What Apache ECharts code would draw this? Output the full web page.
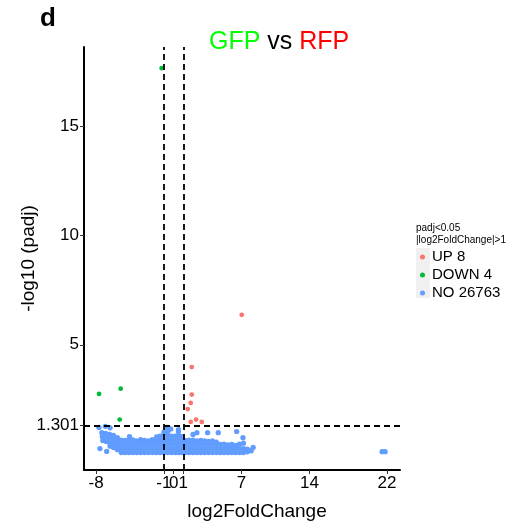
<!DOCTYPE html>
<html><head><meta charset="utf-8">
<script src="https://cdn.jsdelivr.net/npm/echarts@6/dist/echarts.min.js"></script>
<style>html,body{margin:0;padding:0;background:#fff}#c{width:521px;height:527px}</style>
</head><body><div id="c"></div>
<script>
const xTicks = [-8, -1, 0, 1, 7, 14, 22];
const yTicks = [1.301, 5, 10, 15];
const legendNames = ['UP 8', 'DOWN 4', 'NO 26763'];
const thresholdX = [-1, 1];
const thresholdY = 1.301;

const upPoints = [
  [7.02, 6.37], [1.87, 3.98], [1.87, 2.72], [1.76, 2.34],
  [1.45, 2.06], [1.76, 1.47], [2.31, 1.58], [2.90, 1.47]
];
const downPoints = [
  [-1.23, 17.66], [-7.69, 2.75], [-5.46, 2.99], [-5.56, 1.58]
];
const noPoints = [
  [-7.7,1.22],[-7.05,1.27],[-6.55,1.2],[-7.6,0.25],[-6.9,0.12],
  [-7.4,0.98],[-7.35,0.8],[-7.3,0.62],
  [-7.0,0.95],[-7.0,0.76],[-6.95,0.58],
  [-6.6,0.9],[-6.6,0.72],[-6.6,0.52],[-6.55,0.36],
  [-6.2,0.85],[-6.2,0.66],[-6.2,0.47],[-6.2,0.3],
  [-5.8,0.75],[-5.8,0.56],[-5.8,0.38],[-5.8,0.2],
  [-5.4,0.07],[-5.4,0.26],[-5.4,0.45],[-5.4,0.64],
  [-5.0,0.07],[-5.0,0.26],[-5.0,0.45],[-5.0,0.62],
  [-4.6,0.07],[-4.6,0.26],[-4.6,0.45],[-4.6,0.64],[-4.55,0.8],
  [-4.2,0.07],[-4.2,0.26],[-4.2,0.45],[-4.2,0.65],
  [-3.8,0.07],[-3.8,0.26],[-3.8,0.45],[-3.8,0.6],
  [-3.4,0.07],[-3.4,0.26],[-3.4,0.45],[-3.4,0.66],
  [-3.0,0.07],[-3.0,0.26],[-3.0,0.45],[-3.0,0.62],
  [-2.6,0.07],[-2.6,0.26],[-2.6,0.45],[-2.6,0.6],
  [-2.2,0.07],[-2.2,0.26],[-2.2,0.45],[-2.2,0.66],
  [-1.8,0.07],[-1.8,0.26],[-1.8,0.45],[-1.8,0.64],[-1.75,0.78],
  [-1.4,0.07],[-1.4,0.26],[-1.4,0.45],[-1.4,0.64],[-1.4,0.82],
  [-1.0,0.07],[-1.0,0.26],[-1.0,0.45],[-1.0,0.64],[-1.0,0.85],[-1.0,1.0],
  [-0.6,0.07],[-0.6,0.26],[-0.6,0.45],[-0.6,0.64],[-0.6,0.84],[-0.6,1.02],[-0.7,1.22],
  [-0.2,0.07],[-0.2,0.26],[-0.2,0.45],[-0.2,0.64],[-0.2,0.82],[-0.3,1.15],
  [0.2,0.07],[0.2,0.26],[0.2,0.45],[0.2,0.64],[0.2,0.82],
  [0.5,0.07],[0.5,0.26],[0.5,0.45],[0.5,0.64],[0.5,0.84],[0.5,1.02],[0.5,1.12],
  [0.8,0.07],[0.8,0.26],[0.8,0.45],[0.8,0.64],[0.8,0.8],
  [1.2,0.07],[1.2,0.26],[1.2,0.45],[1.2,0.62],
  [1.6,0.07],[1.6,0.26],[1.6,0.45],[1.6,0.64],
  [2.0,0.07],[2.0,0.26],[2.0,0.45],[2.0,0.64],[2.0,0.9],
  [2.4,0.07],[2.4,0.26],[2.4,0.45],[2.4,0.6],[2.4,0.98],
  [2.8,0.07],[2.8,0.26],[2.8,0.45],[2.8,0.62],
  [3.2,0.07],[3.2,0.26],[3.2,0.45],[3.2,0.6],
  [3.6,0.07],[3.6,0.26],[3.6,0.45],[3.6,0.58],[3.5,0.98],
  [4.0,0.07],[4.0,0.26],[4.0,0.45],[4.0,0.6],
  [4.4,0.07],[4.4,0.26],[4.4,0.45],[4.4,0.55],[4.6,0.98],
  [4.8,0.07],[4.8,0.26],[4.8,0.44],
  [5.2,0.07],[5.2,0.26],[5.2,0.45],
  [5.6,0.07],[5.6,0.26],[5.6,0.42],
  [6.0,0.07],[6.0,0.26],[6.0,0.44],
  [6.4,0.07],[6.4,0.26],[6.4,0.4],[6.5,1.03],
  [6.8,0.07],[6.8,0.26],[6.8,0.45],
  [7.2,0.07],[7.2,0.25],[7.2,0.5],[7.15,0.75],
  [7.6,0.1],[7.6,0.22],
  [8.0,0.15],[8.2,0.3],
  [21.5,0.11],[21.8,0.11]
];

const FONT = '"Liberation Sans", Arial, Helvetica, sans-serif';
const chart = echarts.init(document.getElementById('c'), null, {renderer: 'canvas'});
const option = {
  animation: false,
  backgroundColor: '#ffffff',
  textStyle: {fontFamily: FONT},
  title: {
    text: '{g|GFP} vs {r|RFP}',
    left: 204, top: 25,
    textStyle: {
      fontFamily: FONT, fontSize: 25, fontWeight: 'normal', color: '#000',
      rich: {
        g: {color: '#00FF00', fontSize: 25, fontFamily: FONT},
        r: {color: '#FF0000', fontSize: 25, fontFamily: FONT}
      }
    }
  },
  grid: {left: 84, right: 121, top: 47, bottom: 57, containLabel: false},
  legend: {
    data: legendNames,
    orient: 'vertical',
    left: 420, top: 248,
    padding: 0,
    itemGap: 0,
    icon: 'circle',
    itemWidth: 5, itemHeight: 5,
    textStyle: {fontFamily: FONT, fontSize: 15, color: '#000', lineHeight: 18, padding: [0, 0, 0, 2]},
    selectedMode: false
  },
  xAxis: {
    type: 'value', min: -9.24, max: 23.34,
    splitLine: {show: false},
    axisLine: {show: true, onZero: false, lineStyle: {color: '#000', width: 2}},
    axisTick: {show: true, customValues: xTicks, length: 4, lineStyle: {color: '#333', width: 1}},
    axisLabel: {customValues: xTicks, fontFamily: FONT, fontSize: 17, color: '#000', margin: 5}
  },
  yAxis: {
    type: 'value', min: -0.73, max: 18.63,
    splitLine: {show: false},
    axisLine: {show: true, onZero: false, lineStyle: {color: '#000', width: 2}},
    axisTick: {show: true, customValues: yTicks, length: 4, lineStyle: {color: '#333', width: 1}},
    axisLabel: {customValues: yTicks, fontFamily: FONT, fontSize: 17, color: '#000', margin: 5}
  },
  series: [
    {name: 'NO 26763', type: 'scatter', data: noPoints, symbolSize: 5.3,
     itemStyle: {color: '#619CFF', opacity: 1}, z: 2},
    {name: 'UP 8', type: 'scatter', data: upPoints, symbolSize: 4.8,
     itemStyle: {color: '#F8766D', opacity: 1}, z: 3},
    {name: 'DOWN 4', type: 'scatter', data: downPoints, symbolSize: 4.8,
     itemStyle: {color: '#00BA38', opacity: 1}, z: 3},
    {name: 'thresholds', type: 'scatter', data: [], z: 5,
     markLine: {
       silent: true, symbol: 'none', animation: false,
       label: {show: false},
       lineStyle: {color: '#000', type: [6, 4], width: 1.8},
       data: thresholdX.map(v => ({xAxis: v})).concat([{yAxis: thresholdY}])
     }}
  ],
  graphic: [
    {type: 'text', left: 40, top: 6, style: {text: 'd', font: 'bold 26px ' + FONT, fill: '#000'}},
    {type: 'text', x: 29, y: 258.5, rotation: Math.PI / 2,
     style: {text: '-log10 (padj)', font: '19px ' + FONT, fill: '#000', textAlign: 'center', textVerticalAlign: 'middle'}},
    {type: 'text', x: 257, y: 512,
     style: {text: 'log2FoldChange', font: '19px ' + FONT, fill: '#000', textAlign: 'center', textVerticalAlign: 'middle'}},
    {type: 'text', x: 416, y: 228,
     style: {text: 'padj<0.05', font: '10px ' + FONT, fill: '#000', textAlign: 'left', textVerticalAlign: 'middle'}},
    {type: 'text', x: 416, y: 240,
     style: {text: '|log2FoldChange|>1', font: '10px ' + FONT, fill: '#000', textAlign: 'left', textVerticalAlign: 'middle'}},
    {type: 'rect', shape: {x: 416, y: 248, width: 14, height: 50}, style: {fill: '#F0F0F0'}, z: -1}
  ]
};
chart.setOption(option);
</script>
</body></html>
